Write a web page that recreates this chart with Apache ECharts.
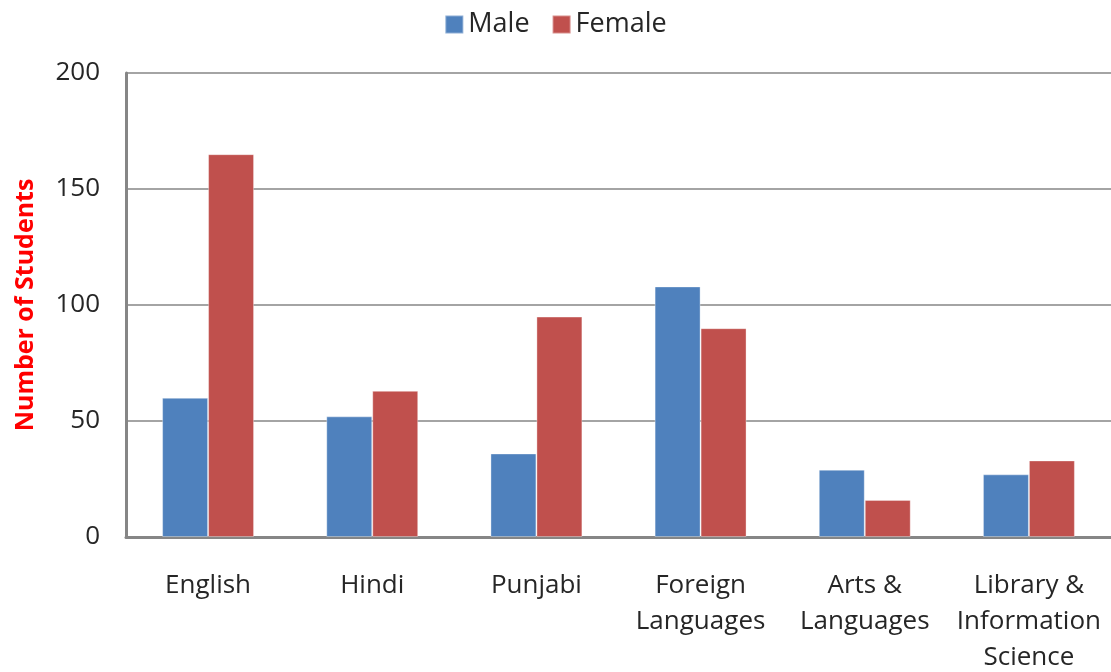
<!DOCTYPE html>
<html>
<head>
<meta charset="utf-8">
<script src="https://cdn.jsdelivr.net/npm/echarts@6/dist/echarts.min.js"></script>
<style>
  html, body { margin: 0; padding: 0; background: #fff; }
  #chart { width: 1111px; height: 672px; }
</style>
</head>
<body>
<div id="chart"></div>
<script>
const categories = ['English', 'Hindi', 'Punjabi', 'Foreign\nLanguages', 'Arts &\nLanguages', 'Library &\nInformation\nScience'];
const maleData = [60, 52, 36, 108, 29, 27];
const femaleData = [165, 63, 95, 90, 16, 33];
const seriesNames = ['Male', 'Female'];

const chart = echarts.init(document.getElementById('chart'));
const fontFamily = '"Open Sans", "Noto Sans", sans-serif';

const options = {
  animation: false,
  color: ['#4F81BD', '#C0504D'],
  textStyle: { fontFamily: fontFamily },
  legend: {
    top: 6,
    left: 'center',
    data: seriesNames,
    icon: 'rect',
    itemWidth: 18,
    itemHeight: 18,
    itemGap: 22,
    textStyle: { fontSize: 27, color: '#262626', fontFamily: fontFamily }
  },
  grid: {
    left: 126,
    right: 0,
    top: 73,
    bottom: 135,
    outerBoundsMode: 'none',
    containLabel: false
  },
  xAxis: {
    type: 'category',
    data: categories,
    axisLine: { lineStyle: { color: '#868686', width: 3 } },
    axisTick: { show: false },
    axisLabel: {
      interval: 0,
      margin: 31,
      fontSize: 26,
      lineHeight: 36,
      color: '#262626',
      fontFamily: fontFamily
    }
  },
  yAxis: {
    type: 'value',
    min: 0,
    max: 200,
    interval: 50,
    name: 'Number of Students',
    nameLocation: 'middle',
    nameGap: 88,
    nameTextStyle: { color: '#FF0000', fontWeight: 'bold', fontSize: 25, fontFamily: fontFamily },
    axisLine: { show: true, lineStyle: { color: '#868686', width: 3 } },
    axisTick: { show: false },
    axisLabel: { fontSize: 26, margin: 26, color: '#262626', fontFamily: fontFamily },
    splitLine: { show: true, lineStyle: { color: '#868686', width: 1.5 } }
  },
  series: [
    {
      name: seriesNames[0],
      type: 'bar',
      data: maleData,
      barGap: '0%',
      barCategoryGap: '44%',
      itemStyle: { borderColor: 'rgba(255,255,255,0.35)', borderWidth: 1 }
    },
    {
      name: seriesNames[1],
      type: 'bar',
      data: femaleData,
      barGap: '0%',
      barCategoryGap: '44%',
      itemStyle: { borderColor: 'rgba(255,255,255,0.35)', borderWidth: 1 }
    }
  ]
};

chart.setOption(options);
window.onresize = () => {
  chart.resize();
};
</script>
</body>
</html>
